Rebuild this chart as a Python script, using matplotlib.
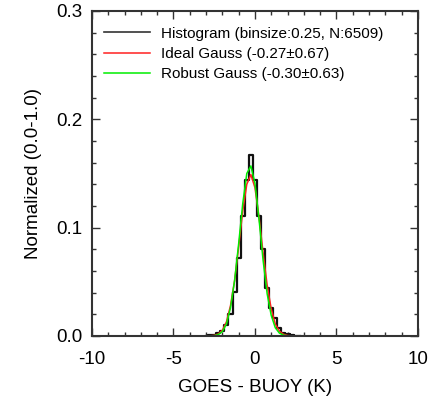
import numpy as np
import matplotlib
matplotlib.use("Agg")
import matplotlib.pyplot as plt
from matplotlib.ticker import MultipleLocator

plt.rcParams['font.family'] = ['Liberation Sans', 'DejaVu Sans']

# bin centres (binsize 0.25) and normalised counts
bin_centers = [-3.0, -2.75, -2.5, -2.25, -2.0, -1.75, -1.5, -1.25, -1.0, -0.75,
               -0.5, -0.25, 0.0, 0.25, 0.5, 0.75, 1.0, 1.25, 1.5, 1.75,
               2.0, 2.25, 2.5, 2.75]
hist_vals = [0.0003, 0.0005, 0.001, 0.003, 0.005, 0.010, 0.020, 0.041, 0.072, 0.111,
             0.144, 0.167, 0.144, 0.111, 0.080, 0.044, 0.026, 0.017, 0.007, 0.003,
             0.0015, 0.0008, 0.0004, 0.0002]

gauss_x = [-3.0, -2.75, -2.5, -2.25, -2.0, -1.75, -1.5, -1.25, -1.0, -0.75,
           -0.5, -0.25, 0.0, 0.25, 0.5, 0.75, 1.0, 1.25, 1.5, 1.75,
           2.0, 2.25]
ideal_vals = [0.00004, 0.00016, 0.0006, 0.0019, 0.0053, 0.013, 0.028, 0.051, 0.082, 0.115,
              0.140, 0.149, 0.137, 0.110, 0.077, 0.047, 0.025, 0.011, 0.0046, 0.0016,
              0.0005, 0.00013]
robust_vals = [0.00001, 0.00004, 0.0003, 0.0013, 0.0041, 0.011, 0.026, 0.051, 0.085, 0.122,
               0.150, 0.157, 0.141, 0.108, 0.070, 0.039, 0.019, 0.0076, 0.0027, 0.0008,
               0.0002, 0.00004]

labels = ["Histogram (binsize:0.25, N:6509)",
          "Ideal Gauss (-0.27\u00b10.67)",
          "Robust Gauss (-0.30\u00b10.63)"]

fig = plt.figure(figsize=(4.29, 4.0), dpi=100)
ax = fig.add_axes([0.2145, 0.16, 0.7595, 0.8125])

ax.step(bin_centers, hist_vals, where='mid', color='#111111', lw=1.6, label=labels[0])
ax.plot(gauss_x, ideal_vals, color='#ff2020', lw=1.1, label=labels[1])
ax.plot(gauss_x, robust_vals, color='#00ee00', lw=1.1, label=labels[2])

ax.set_xlim(-10, 10)
ax.set_ylim(0, 0.3)
ax.xaxis.set_major_locator(MultipleLocator(5))
ax.xaxis.set_minor_locator(MultipleLocator(1))
ax.yaxis.set_major_locator(MultipleLocator(0.1))
ax.yaxis.set_minor_locator(MultipleLocator(0.02))
ax.xaxis.set_major_formatter(plt.FuncFormatter(lambda v, p: '%d' % v))
ax.yaxis.set_major_formatter(plt.FuncFormatter(lambda v, p: '%.1f' % v))
ax.tick_params(which='both', direction='in', top=True, right=True, color='#333333')
ax.tick_params(which='major', length=6, width=1, labelsize=13.5)
ax.tick_params(axis='x', which='major', pad=11)
ax.tick_params(axis='y', which='major', pad=7)
ax.tick_params(which='minor', length=3, width=1)
for s in ax.spines.values():
    s.set_color('#333333')
    s.set_linewidth(1.5)

ax.set_xlabel('GOES - BUOY (K)', fontsize=13.5, labelpad=8)
ax.set_ylabel('Normalized (0.0-1.0)', fontsize=13.5, labelpad=10)

leg = ax.legend(loc='upper left', bbox_to_anchor=(0.01, 0.98), frameon=False, fontsize=11,
                handlelength=3.0, handletextpad=0.7, labelspacing=0.42, borderaxespad=0.2)
leg.get_lines()[0].set_color('#333333')
leg.get_lines()[0].set_linewidth(1.2)

fig.savefig('out.png', dpi=100)
